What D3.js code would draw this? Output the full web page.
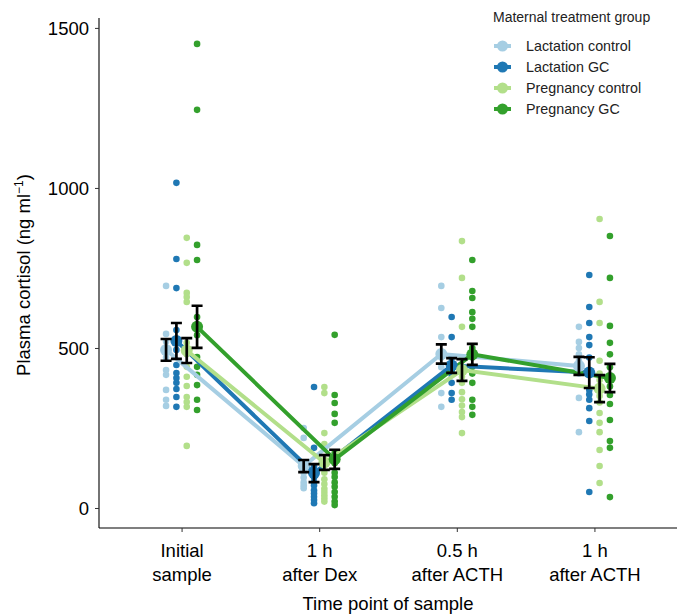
<!DOCTYPE html>
<html>
<head>
<meta charset="utf-8">
<script src="https://cdn.jsdelivr.net/npm/d3@7"></script>
<style>
  body { margin: 0; background: #fff; }
  text { font-family: "Liberation Sans", Arial, sans-serif; }
</style>
</head>
<body>
<div id="chart"></div>
<script>
var width = 677;
var height = 614;

// time points (x categories), two-line labels
var timepoints = ["Initial|sample", "1 h|after Dex", "0.5 h|after ACTH", "1 h|after ACTH"];
var groups = ["Lactation control", "Lactation GC", "Pregnancy control", "Pregnancy GC"];
var colors = ["#a6cee3", "#1f78b4", "#b2df8a", "#33a02c"];
var yTicks = [0, 500, 1000, 1500];

// individual samples, one list per time point
var lacCtrlObs = [
	[694, 544, 520, 494, 470, 431, 416, 369, 338, 319],
	[250, 219, 140, 125, 110, 95, 80, 70, 62],
	[694, 625, 534, 484, 470, 440, 359, 316],
	[566, 519, 500, 480, 460, 447, 420, 344, 237]
];
var lacGcObs = [
	[1016, 778, 687, 556, 525, 494, 447, 422, 406, 391, 372, 347, 316],
	[378, 188, 130, 110, 95, 80, 70, 55, 45, 35, 25, 15],
	[597, 534, 470, 450, 430, 416, 391, 359, 338],
	[728, 628, 578, 534, 509, 470, 430, 369, 355, 338, 312, 272, 50]
];
var pregCtrlObs = [
	[844, 766, 672, 659, 644, 516, 480, 441, 410, 381, 347, 331, 316, 194],
	[378, 359, 234, 200, 110, 90, 75, 60, 50, 40, 30, 20],
	[834, 719, 566, 470, 440, 410, 391, 362, 340, 320, 300, 284, 234],
	[903, 644, 578, 460, 420, 400, 380, 350, 330, 297, 266, 237, 181, 131, 78]
];
var pregGcObs = [
	[1450, 1244, 822, 775, 597, 566, 540, 472, 441, 416, 384, 338, 306],
	[541, 353, 328, 294, 266, 172, 140, 110, 97, 80, 66, 50, 35, 20, 9],
	[775, 678, 656, 612, 591, 566, 500, 470, 441, 420, 391, 338, 316, 291],
	[850, 719, 569, 516, 480, 440, 406, 380, 353, 325, 275, 209, 188, 34]
];

// group means and standard errors per time point
var lacCtrlMean = [494, 131, 481, 444];
var lacCtrlSE = [34, 19, 30, 28];
var lacGcMean = [522, 109, 445, 423];
var lacGcSE = [56, 28, 23, 48];
var pregCtrlMean = [492, 142, 431, 373];
var pregCtrlSE = [39, 23, 34, 42];
var pregGcMean = [566, 152, 480, 406];
var pregGcSE = [66, 30, 33, 44];

var allObs = [lacCtrlObs, lacGcObs, pregCtrlObs, pregGcObs];
var allMean = [lacCtrlMean, lacGcMean, pregCtrlMean, pregGcMean];
var allSE = [lacCtrlSE, lacGcSE, pregCtrlSE, pregGcSE];

var xScale = d3.scalePoint().domain(timepoints).range([99, 677]).padding(0.6);
var dodge = d3.scalePoint().domain(groups).range([-15.5, 15.5]);
var yScale = d3.scaleLinear().domain([-62.5, 1531]).range([528, 18]);

function px(t, g) { return xScale(timepoints[t]) + dodge(groups[g]); }

var svg = d3.select("#chart")
	.append("svg")
	.attr("width", width)
	.attr("height", height);

// axes
var xAxis = d3.axisBottom(xScale).tickSize(4).tickFormat("");
var yAxis = d3.axisLeft(yScale).tickValues(yTicks).tickSize(4).tickFormat(d3.format("d"));

var gx = svg.append("g")
	.attr("transform", "translate(0,528)")
	.call(xAxis);
gx.select(".domain").attr("d", "M99,0H677").attr("stroke", "#000").attr("stroke-width", 1.1);
gx.selectAll(".tick line").attr("stroke", "#333");

gx.selectAll(".tick").each(function (d) {
	var parts = d.split("|");
	var t = d3.select(this).append("text")
		.attr("fill", "#000")
		.attr("text-anchor", "middle")
		.style("font-size", "18.5px");
	t.append("tspan").attr("x", 0).attr("y", 29).text(parts[0]);
	t.append("tspan").attr("x", 0).attr("y", 53).text(parts[1]);
});

var gy = svg.append("g")
	.attr("transform", "translate(99,0)")
	.call(yAxis);
gy.select(".domain").attr("d", "M0,18V528").attr("stroke", "#000").attr("stroke-width", 1.1);
gy.selectAll(".tick line").attr("stroke", "#333");
gy.selectAll(".tick text")
	.attr("fill", "#000")
	.attr("x", -10)
	.attr("dy", "0.35em")
	.style("font-size", "18.5px");

svg.append("text")
	.attr("x", 388)
	.attr("y", 610)
	.attr("text-anchor", "middle")
	.attr("fill", "#000")
	.style("font-size", "18.5px")
	.text("Time point of sample");

var ytitle = svg.append("text")
	.attr("transform", "translate(30,275) rotate(-90)")
	.attr("text-anchor", "middle")
	.attr("fill", "#000")
	.style("font-size", "18.5px");
ytitle.append("tspan").text("Plasma cortisol (ng ml");
ytitle.append("tspan").attr("dy", -7).style("font-size", "12px").text("\u22121");
ytitle.append("tspan").attr("dy", 7).text(")");

// individual points
allObs.forEach(function (obs, g) {
	var pts = [];
	obs.forEach(function (vals, t) {
		vals.forEach(function (v) { pts.push({ t: t, v: v }); });
	});
	svg.append("g").selectAll("circle")
		.data(pts)
		.enter()
		.append("circle")
		.attr("cx", function (d) { return px(d.t, g); })
		.attr("cy", function (d) { return yScale(d.v); })
		.attr("r", 3.3)
		.attr("fill", colors[g]);
});

// mean lines
var line = d3.line()
	.x(function (d) { return d.x; })
	.y(function (d) { return d.y; });

allMean.forEach(function (means, g) {
	var pts = means.map(function (m, t) { return { x: px(t, g), y: yScale(m) }; });
	svg.append("path")
		.datum(pts)
		.attr("d", line)
		.attr("fill", "none")
		.attr("stroke", colors[g])
		.attr("stroke-width", 4);
});

// mean points
allMean.forEach(function (means, g) {
	svg.append("g").selectAll("circle")
		.data(means)
		.enter()
		.append("circle")
		.attr("cx", function (d, t) { return px(t, g); })
		.attr("cy", function (d) { return yScale(d); })
		.attr("r", 6)
		.attr("fill", colors[g]);
});

// error bars
allMean.forEach(function (means, g) {
	var eb = svg.append("g")
		.attr("stroke", "#000")
		.attr("stroke-width", 2.7)
		.attr("fill", "none");
	means.forEach(function (m, t) {
		var x = px(t, g);
		var lo = yScale(m - allSE[g][t]);
		var hi = yScale(m + allSE[g][t]);
		eb.append("path")
			.attr("d", "M" + (x - 5.5) + "," + hi + "H" + (x + 5.5) +
				"M" + x + "," + hi + "V" + lo +
				"M" + (x - 5.5) + "," + lo + "H" + (x + 5.5));
	});
});

// legend
var legend = svg.append("g");
legend.append("text")
	.attr("x", 493)
	.attr("y", 22)
	.attr("fill", "#222")
	.style("font-size", "14px")
	.text("Maternal treatment group");

var items = legend.selectAll("g.item")
	.data(groups)
	.enter()
	.append("g")
	.attr("class", "item")
	.attr("transform", function (d, i) { return "translate(0," + (46 + i * 21) + ")"; });
items.append("line")
	.attr("x1", 494).attr("x2", 511)
	.attr("stroke", function (d, i) { return colors[i]; })
	.attr("stroke-width", 4);
items.append("circle")
	.attr("cx", 502.5)
	.attr("r", 5.5)
	.attr("fill", function (d, i) { return colors[i]; });
items.append("text")
	.attr("x", 526)
	.attr("dy", "0.35em")
	.attr("fill", "#222")
	.style("font-size", "14.3px")
	.text(function (d) { return d; });
</script>
</body>
</html>
